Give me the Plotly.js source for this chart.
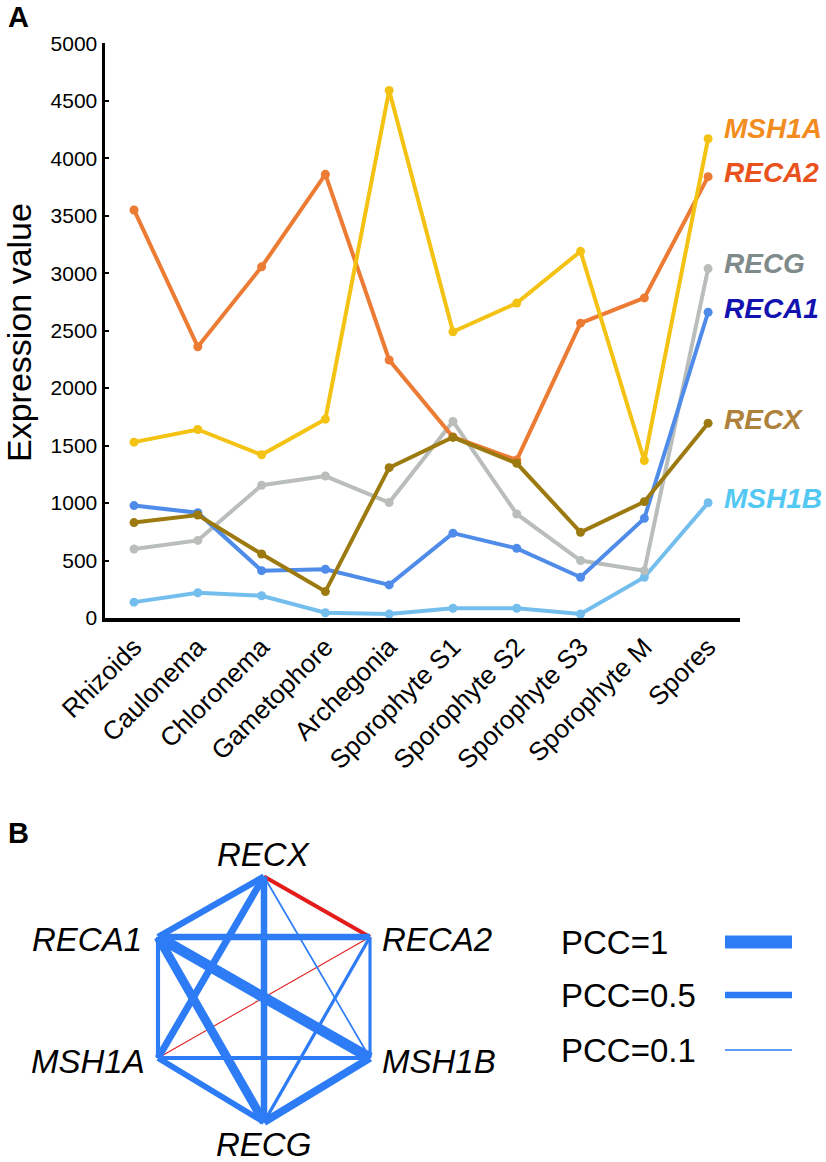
<!DOCTYPE html>
<html>
<head>
<meta charset="utf-8">
<script src="https://cdn.plot.ly/plotly-3.0.1.min.js"></script>
<style>html,body{margin:0;padding:0;background:#fff;}#chart{width:826px;height:1162px;}</style>
</head>
<body>
<div id="chart"></div>
<script>
// ---------- Panel A data ----------
const categories = ['Rhizoids','Caulonema','Chloronema','Gametophore','Archegonia','Sporophyte S1','Sporophyte S2','Sporophyte S3','Sporophyte M','Spores'];
const yTicks = [0,500,1000,1500,2000,2500,3000,3500,4000,4500,5000];
const MSH1A = [1530,1640,1420,1730,4590,2490,2740,3190,1370,4170];
const RECA2 = [3550,2360,3055,3860,2245,1575,1375,2565,2785,3840];
const RECG  = [600,675,1155,1235,1005,1710,905,500,412,3040];
const RECA1 = [978,916,412,424,288,738,606,355,867,2660];
const RECX  = [830,896,557,230,1308,1572,1346,746,1012,1695];
const MSH1B = [138,220,194,46,35,85,85,35,355,1003];

// ---------- Panel B data ----------
const nodeNames = ['RECX','RECA1','RECA2','MSH1A','MSH1B','RECG'];
const edgeFrom = ['RECX','RECX','RECX','RECX','RECX','RECA1','RECA1','RECA1','RECA1','RECA2','RECA2','RECA2','MSH1A','MSH1A','MSH1B'];
const edgeTo   = ['RECA1','RECA2','MSH1A','RECG','MSH1B','RECA2','MSH1A','MSH1B','RECG','MSH1A','MSH1B','RECG','MSH1B','RECG','RECG'];
const edgePCC  = [0.48,-0.30,0.54,0.50,0.13,0.49,0.32,0.82,0.68,-0.08,0.24,0.25,0.30,0.44,0.60];
const legendPCC = [1, 0.5, 0.1];
const legendLabels = ['PCC=1','PCC=0.5','PCC=0.1'];

// ---------- styling ----------
const W = 826, H = 1162;
const FONT = 'Liberation Sans, Arial, Helvetica, sans-serif';
const px = v => v / W;
const py = v => 1 - v / H;

const series = [
  {name:'MSH1A', y:MSH1A, line:'#F4C213', label:'#F28C1F', dy:10},
  {name:'RECA2', y:RECA2, line:'#EC7B33', label:'#E9521C', dy:4},
  {name:'RECG',  y:RECG,  line:'#B9BEBA', label:'#7F8A8A', dy:5},
  {name:'RECA1', y:RECA1, line:'#4F8BE9', label:'#1212B0', dy:4},
  {name:'RECX',  y:RECX,  line:'#9C7A10', label:'#AE823C', dy:4},
  {name:'MSH1B', y:MSH1B, line:'#74BEEE', label:'#52C8F2', dy:4}
];
const drawOrder = ['MSH1B','RECG','RECA1','RECA2','MSH1A','RECX'];

const traces = [];
const annotations = [];

drawOrder.forEach(n => {
  const s = series.find(d => d.name === n);
  traces.push({
    type:'scatter', mode:'lines+markers', x:categories, y:s.y, xaxis:'x', yaxis:'y',
    line:{color:s.line, width:4}, marker:{color:s.line, size:9}, hoverinfo:'skip', cliponaxis:false
  });
});
series.forEach(s => {
  annotations.push({
    xref:'x', yref:'y', x:categories[categories.length-1], y:s.y[s.y.length-1],
    xshift:14, yshift:s.dy, xanchor:'left', yanchor:'middle', showarrow:false,
    text:'<b><i>'+s.name+'</i></b>', font:{family:FONT, size:28, color:s.label}
  });
});

// ---------- network layout (hexagon) ----------
const nodePos = {
  RECX:[0,1], RECA1:[-1,0.5], RECA2:[1,0.5], MSH1A:[-1,-0.5], MSH1B:[1,-0.5], RECG:[0,-1.03]
};
const widthScale = 13;
const order = edgePCC.map((v,i)=>i).sort((a,b)=>Math.abs(edgePCC[a])-Math.abs(edgePCC[b]));
order.forEach(i => {
  const a = nodePos[edgeFrom[i]], b = nodePos[edgeTo[i]];
  traces.push({
    type:'scatter', mode:'lines', x:[a[0],b[0]], y:[a[1],b[1]], xaxis:'x2', yaxis:'y2',
    line:{color: edgePCC[i] < 0 ? '#E31B1B' : '#2D7CF6', width: Math.abs(edgePCC[i])*widthScale},
    hoverinfo:'skip', cliponaxis:false
  });
});

const labelPlace = {
  RECX:{xa:'center', xs:0, ys:22},
  RECA1:{xa:'right', xs:-14, ys:-3},
  RECA2:{xa:'left', xs:10, ys:-3},
  MSH1A:{xa:'right', xs:-11, ys:-4},
  MSH1B:{xa:'left', xs:10, ys:-4},
  RECG:{xa:'center', xs:0, ys:-22}
};
nodeNames.forEach(n => {
  const p = nodePos[n], l = labelPlace[n];
  annotations.push({
    xref:'x2', yref:'y2', x:p[0], y:p[1], xanchor:l.xa, yanchor:'middle', xshift:l.xs, yshift:l.ys,
    showarrow:false, text:'<i>'+n+'</i>', font:{family:FONT, size:33, color:'#000'}
  });
});

// legend of PCC widths
const legendY = [942, 995, 1050];
const shapes = [];
legendPCC.forEach((v,i) => {
  shapes.push({type:'line', xref:'paper', yref:'paper', x0:px(725), x1:px(792), y0:py(legendY[i]), y1:py(legendY[i]),
    line:{color:'#2D7CF6', width:v*widthScale}});
  annotations.push({xref:'paper', yref:'paper', x:px(559), y:py(legendY[i]), xanchor:'left', yanchor:'middle',
    showarrow:false, text:legendLabels[i], font:{family:FONT, size:33, color:'#000'}});
});

// panel letters and axis title
annotations.push({xref:'paper', yref:'paper', x:px(6), y:py(17), xanchor:'left', yanchor:'middle', showarrow:false,
  text:'<b>A</b>', font:{family:FONT, size:29, color:'#000'}});
annotations.push({xref:'paper', yref:'paper', x:px(6), y:py(833), xanchor:'left', yanchor:'middle', showarrow:false,
  text:'<b>B</b>', font:{family:FONT, size:29, color:'#000'}});
annotations.push({xref:'paper', yref:'paper', x:px(19), y:py(333), xanchor:'center', yanchor:'middle', showarrow:false,
  textangle:-90, text:'Expression value', font:{family:FONT, size:34, color:'#000'}});

const layout = {
  width:W, height:H, margin:{l:0,r:0,t:0,b:0}, paper_bgcolor:'#fff', plot_bgcolor:'rgba(0,0,0,0)',
  showlegend:false, font:{family:FONT, color:'#000'},
  xaxis:{domain:[px(105), px(740)], range:[-0.455, 9.5], type:'category', anchor:'y',
    showline:true, linewidth:3.5, linecolor:'#000', ticks:'', showgrid:false, zeroline:false,
    tickangle:-45, tickfont:{family:FONT, size:26, color:'#000'}, automargin:false, fixedrange:true},
  yaxis:{domain:[py(618), py(43.3)], range:[0,5000], anchor:'x', tickvals:yTicks, ticktext:yTicks.map(String),
    showline:true, linewidth:3.5, linecolor:'#000', ticks:'inside', ticklen:4, tickwidth:2, tickcolor:'#000',
    showgrid:false, zeroline:false, tickfont:{family:FONT, size:21, color:'#000'}, automargin:false, fixedrange:true},
  xaxis2:{domain:[0.01162, 0.62760], range:[-2.4, 2.4], anchor:'y2', visible:false, fixedrange:true},
  yaxis2:{domain:[0.006196, 0.27694], range:[-1.3, 1.3], anchor:'x2', visible:false, fixedrange:true},
  annotations:annotations, shapes:shapes
};

Plotly.newPlot('chart', traces, layout, {staticPlot:true, displayModeBar:false});
</script>
</body>
</html>
